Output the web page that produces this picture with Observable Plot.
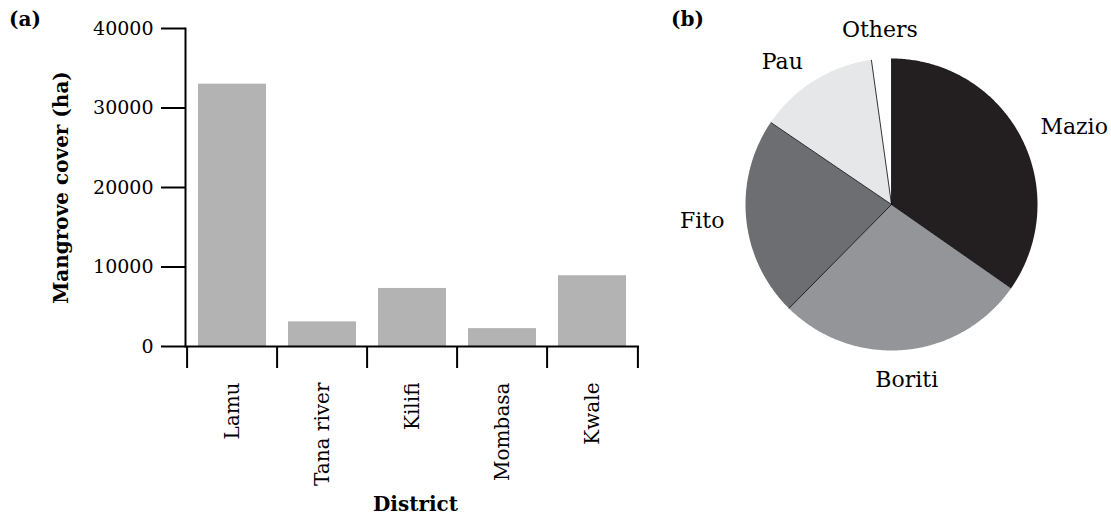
<!DOCTYPE html>
<html>
<head>
<meta charset="utf-8">
<script src="https://cdn.jsdelivr.net/npm/d3@7"></script>
<script src="https://cdn.jsdelivr.net/npm/@observablehq/plot@0.6"></script>
<style>
  html, body { margin: 0; padding: 0; background: #fff; }
  #wrap { position: relative; width: 1111px; height: 524px; overflow: hidden; font-family: "DejaVu Serif", serif; }
  #bar { position: absolute; left: 0; top: 0; }
  #pie { position: absolute; left: 640px; top: 0; }
  .panel { position: absolute; font-weight: bold; font-size: 20px; top: 7px; font-family: "DejaVu Serif", serif; }
  svg text { font-family: "DejaVu Serif", serif; }
</style>
</head>
<body>
<div id="wrap">
  <div id="bar"></div>
  <div id="pie"></div>
  <div class="panel" style="left:9px">(a)</div>
  <div class="panel" style="left:671px">(b)</div>
</div>
<script>
// ---- data: panel (a) ----
const districts = ["Lamu", "Tana river", "Kilifi", "Mombasa", "Kwale"];
const cover = [33000, 3100, 7300, 2250, 8900];
const yTicks = [0, 10000, 20000, 30000, 40000];

// ---- data: panel (b) ----
const species = ["Mazio", "Boriti", "Fito", "Pau", "Others"];
const share = [34.7, 27.7, 22.1, 13.3, 2.2];
const speciesColors = ["#231f20", "#939598", "#6d6e71", "#e6e7e8", "#ffffff"];

// ---------- bar chart ----------
const barData = districts.map((d, i) => ({district: d, cover: cover[i]}));
const W = 660, ML = 185, MR = 21;
const step = (W - ML - MR) / districts.length;
const font = "DejaVu Serif";

const bar = Plot.plot({
  width: W, height: 524,
  marginLeft: ML, marginRight: MR, marginTop: 28, marginBottom: 178,
  style: {fontFamily: font, fontSize: "19px", color: "black", background: "transparent"},
  x: {domain: districts, paddingInner: 0.24, paddingOuter: 0.12, axis: null},
  y: {domain: [0, 40000], axis: null},
  marks: [
    Plot.barY(barData, {x: "district", y: "cover", fill: "#b3b3b3"}),
    Plot.ruleY([0], {stroke: "black", strokeWidth: 2}),
    Plot.frame({anchor: "left", stroke: "black", strokeWidth: 2}),
    Plot.axisY({ticks: yTicks, tickSize: 24, tickPadding: 8, tickFormat: d3.format("d"), strokeWidth: 2, label: null, fontSize: 19, fontFamily: font}),
    Plot.axisX({ticks: districts, tickSize: 22, tickFormat: () => "", dx: -step / 2, strokeWidth: 2, label: null}),
    Plot.axisX({ticks: districts.slice(-1), tickSize: 22, tickFormat: () => "", dx: step / 2, strokeWidth: 2, label: null}),
    Plot.axisX({tickSize: 0, tickPadding: 36, tickRotate: -90, label: null, fontSize: 20, fontFamily: font}),
    Plot.text(["Mangrove cover (ha)"], {frameAnchor: "left", textAnchor: "middle", dx: -124, dy: 0, rotate: -90, fontWeight: "bold", fontSize: 20, fontFamily: font}),
    Plot.text(["District"], {frameAnchor: "bottom", dy: 164, dx: 3, fontWeight: "bold", fontSize: 20, fontFamily: font})
  ]
});
document.getElementById("bar").appendChild(bar);

// ---------- pie chart ----------
const pieData = species.map((s, i) => ({name: s, value: share[i]}));
const arcs = d3.pie().sort(null).value(d => d.value)(pieData);
const pts = [];
for (const a of arcs) {
  const n = Math.max(2, Math.ceil((a.endAngle - a.startAngle) / 0.01));
  pts.push({name: a.data.name, x: 0, y: 0});
  for (let k = 0; k <= n; k++) {
    const t = a.startAngle + (a.endAngle - a.startAngle) * k / n;
    pts.push({name: a.data.name, x: Math.sin(t), y: Math.cos(t)});
  }
  pts.push({name: a.data.name, x: 0, y: 0});
}
const seps = arcs.map(a => ({x: Math.sin(a.startAngle), y: Math.cos(a.startAngle)}));
const LR = 1.15;
const labels = arcs.map(a => {
  const m = (a.startAngle + a.endAngle) / 2;
  const s = Math.sin(m), c = Math.cos(m);
  return {
    name: a.data.name, x: LR * s, y: LR * c,
    anchor: s > 0.3 ? "start" : s < -0.3 ? "end" : "middle",
    line: Math.abs(s) > 0.3 ? "middle" : c > 0 ? "bottom" : "top"
  };
});

const cx = 251, cy = 204, r = 146;
const pie = Plot.plot({
  width: 471, height: 524,
  style: {fontFamily: font, fontSize: "22px", color: "black", background: "transparent"},
  x: {domain: [-1, 1], range: [cx - r, cx + r], axis: null},
  y: {domain: [-1, 1], range: [cy + r, cy - r], axis: null},
  color: {domain: species, range: speciesColors},
  marks: [
    Plot.line(pts, {x: "x", y: "y", z: "name", fill: "name", stroke: null, curve: "linear"}),
    Plot.link(seps, {x1: 0, y1: 0, x2: "x", y2: "y", stroke: "black", strokeWidth: 0.8}),
    ...["start", "end", "middle"].flatMap(ta => ["middle", "bottom", "top"].map(la =>
      Plot.text(labels.filter(d => d.anchor === ta && d.line === la),
        {x: "x", y: "y", text: "name", textAnchor: ta, lineAnchor: la, fontSize: 22, fontFamily: font})))
  ]
});
document.getElementById("pie").appendChild(pie);
</script>
</body>
</html>
